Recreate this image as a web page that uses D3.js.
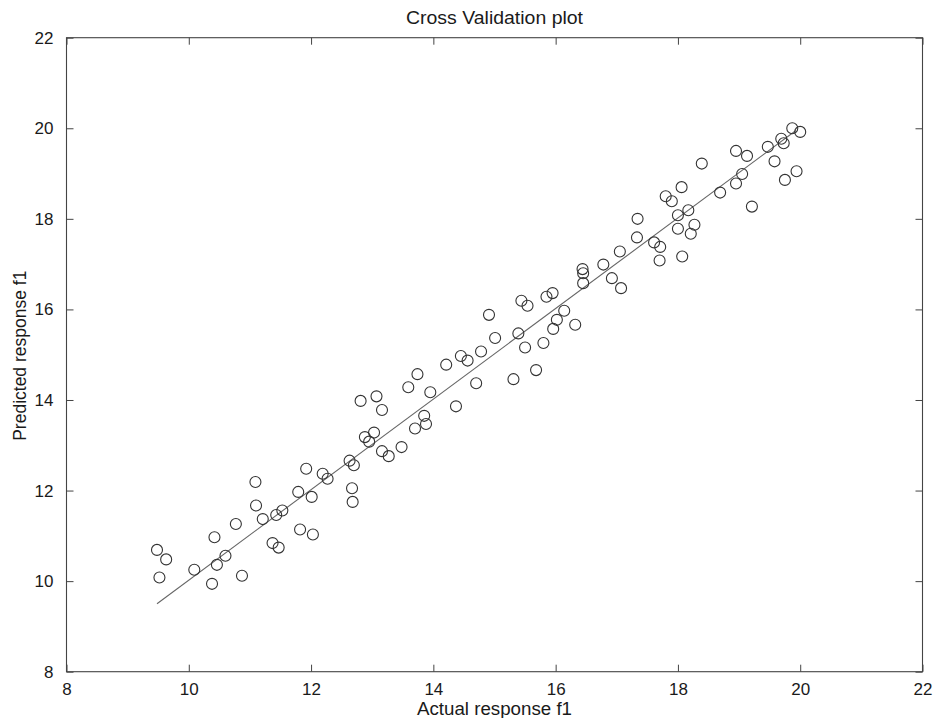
<!DOCTYPE html>
<html>
<head>
<meta charset="utf-8">
<script src="https://cdn.jsdelivr.net/npm/d3@7"></script>
<style>
  html, body { margin: 0; padding: 0; background: #fff; }
  svg { display: block; }
  text { font-family: "Liberation Sans", Arial, Helvetica, sans-serif; fill: #1a1a1a; }
</style>
</head>
<body>
<svg id="chart" width="933" height="718"></svg>
<script>
// ---- data ----
const titleText = "Cross Validation plot";
const xLabelText = "Actual response f1";
const yLabelText = "Predicted response f1";
const xTicks = [8, 10, 12, 14, 16, 18, 20, 22];
const yTicks = [8, 10, 12, 14, 16, 18, 20, 22];
const actual = [
  9.48, 9.63, 9.52, 10.09, 10.38, 10.46, 10.60, 10.42, 10.77, 10.87,
  11.09, 11.10, 11.21, 11.43, 11.53, 11.37, 11.47, 11.79, 11.92, 12.01,
  11.82, 12.03, 12.19, 12.27, 12.63, 12.70, 12.67, 12.68, 12.88, 13.03,
  12.95, 13.16, 13.27, 13.48, 12.81, 13.07, 13.16, 13.59, 13.74, 13.95,
  13.70, 13.85, 13.88, 14.37, 14.21, 14.45, 14.56, 14.70, 14.78, 14.91,
  15.01, 15.31, 15.39, 15.44, 15.54, 15.50, 15.68, 15.80, 15.85, 15.95,
  15.96, 16.02, 16.14, 16.32, 16.44, 16.45, 16.45, 16.78, 16.92, 17.07,
  17.05, 17.33, 17.34, 17.61, 17.71, 17.70, 17.80, 17.90, 18.06, 18.00,
  18.17, 18.00, 18.27, 18.21, 18.07, 18.39, 18.69, 18.95, 19.05, 18.95,
  19.13, 19.21, 19.47, 19.58, 19.69, 19.87, 19.73, 20.00, 19.75, 19.94
];
const predicted = [
  10.69, 10.48, 10.08, 10.25, 9.94, 10.36, 10.56, 10.97, 11.26, 10.12,
  12.19, 11.67, 11.37, 11.46, 11.56, 10.84, 10.74, 11.97, 12.48, 11.86,
  11.14, 11.03, 12.37, 12.26, 12.66, 12.56, 12.05, 11.75, 13.18, 13.28,
  13.08, 12.87, 12.76, 12.96, 13.98, 14.08, 13.78, 14.28, 14.57, 14.17,
  13.37, 13.65, 13.47, 13.86, 14.78, 14.97, 14.87, 14.37, 15.07, 15.88,
  15.37, 14.46, 15.47, 16.19, 16.08, 15.16, 14.66, 15.26, 16.28, 16.36,
  15.57, 15.77, 15.97, 15.66, 16.89, 16.80, 16.58, 16.99, 16.69, 16.47,
  17.28, 17.59, 18.00, 17.48, 17.38, 17.08, 18.50, 18.39, 18.70, 18.08,
  18.19, 17.78, 17.87, 17.67, 17.17, 19.22, 18.58, 18.78, 18.99, 19.50,
  19.39, 18.27, 19.59, 19.27, 19.77, 20.00, 19.67, 19.92, 18.86, 19.05
];
// fitted line end points
const fitX = [9.48, 19.93];
const fitY = [9.50, 19.95];

// ---- layout ----
const margin = { left: 66.5, right: 933 - 922.5, top: 37.7, bottom: 718 - 671.7 };
const W = 933, H = 718;
const svg = d3.select("#chart");

const x = d3.scaleLinear().domain([8, 22]).range([margin.left, W - margin.right]);
const y = d3.scaleLinear().domain([8, 22]).range([H - margin.bottom, margin.top]);

const axisColor = "#444";
const tickLen = 7;

// frame
svg.append("rect")
  .attr("x", x(8)).attr("y", y(22))
  .attr("width", x(22) - x(8)).attr("height", y(8) - y(22))
  .attr("fill", "none").attr("stroke", axisColor).attr("stroke-width", 1.1);

// axes (ticks inward)
const bottomAxis = d3.axisBottom(x).tickValues(xTicks).tickSizeInner(-tickLen).tickSizeOuter(0).tickPadding(tickLen + 4);
const topAxis = d3.axisTop(x).tickValues(xTicks).tickSizeInner(-tickLen).tickSizeOuter(0).tickFormat("");
const leftAxis = d3.axisLeft(y).tickValues(yTicks).tickSizeInner(-tickLen).tickSizeOuter(0).tickPadding(tickLen + 6);
const rightAxis = d3.axisRight(y).tickValues(yTicks).tickSizeInner(-tickLen).tickSizeOuter(0).tickFormat("");

function styleAxis(g) {
  g.select(".domain").remove();
  g.selectAll(".tick line").attr("stroke", axisColor).attr("stroke-width", 1);
  g.selectAll(".tick text")
    .attr("fill", "#1a1a1a")
    .style("font-family", '"Liberation Sans", Arial, Helvetica, sans-serif')
    .style("font-size", "17px");
}

svg.append("g").attr("transform", `translate(0,${y(8)})`).call(bottomAxis).call(styleAxis);
svg.append("g").attr("transform", `translate(0,${y(22)})`).call(topAxis).call(styleAxis);
svg.append("g").attr("transform", `translate(${x(8)},0)`).call(leftAxis).call(styleAxis);
svg.append("g").attr("transform", `translate(${x(22)},0)`).call(rightAxis).call(styleAxis);

// fitted line
svg.append("line")
  .attr("x1", x(fitX[0])).attr("y1", y(fitY[0]))
  .attr("x2", x(fitX[1])).attr("y2", y(fitY[1]))
  .attr("stroke", "#666").attr("stroke-width", 1.1);

// points
const pts = actual.map((a, i) => ({ a, p: predicted[i] }));
svg.append("g").selectAll("circle").data(pts).join("circle")
  .attr("cx", d => x(d.a))
  .attr("cy", d => y(d.p))
  .attr("r", 5.5)
  .attr("fill", "none")
  .attr("stroke", "#333")
  .attr("stroke-width", 1.1);

// title and labels
const cx = (x(8) + x(22)) / 2;
svg.append("text")
  .attr("x", cx).attr("y", 24)
  .attr("text-anchor", "middle")
  .style("font-size", "17.5px")
  .attr("textLength", 177).attr("lengthAdjust", "spacingAndGlyphs")
  .text(titleText);

svg.append("text")
  .attr("x", cx).attr("y", 715)
  .attr("text-anchor", "middle")
  .style("font-size", "17.5px")
  .attr("textLength", 155).attr("lengthAdjust", "spacingAndGlyphs")
  .text(xLabelText);

const cy = (y(8) + y(22)) / 2 + 1;
svg.append("text")
  .attr("transform", `translate(26,${cy}) rotate(-90)`)
  .attr("text-anchor", "middle")
  .style("font-size", "17.5px")
  .text(yLabelText);
</script>
</body>
</html>
